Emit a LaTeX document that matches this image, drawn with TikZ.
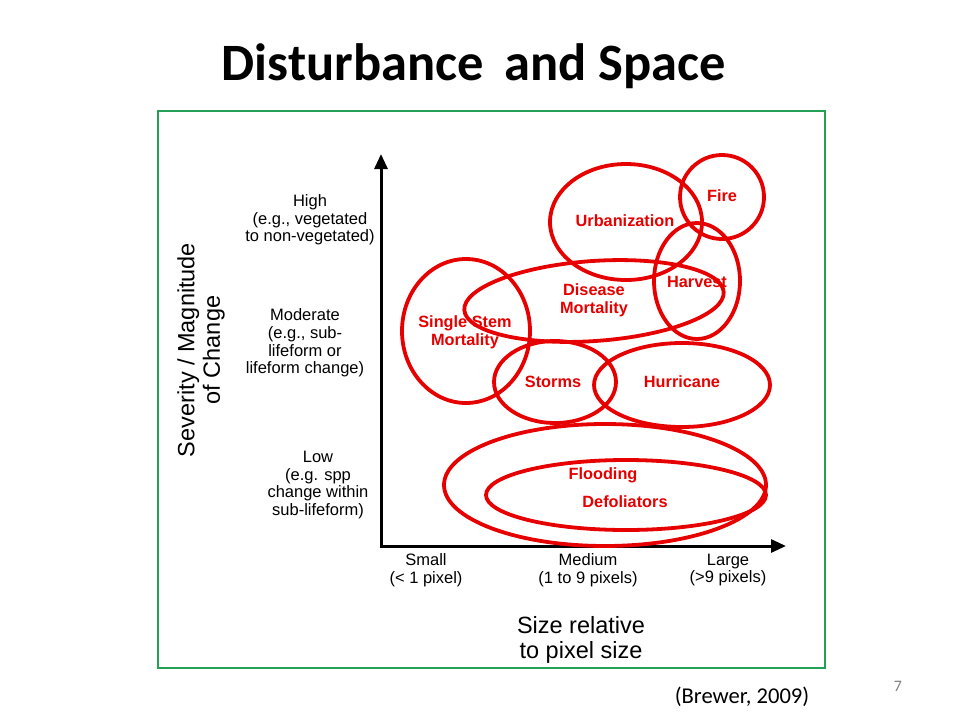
\documentclass[tikz,border=0pt]{standalone}
\usepackage{fontspec}
\setmainfont{Liberation Sans}
\newfontfamily\slidefont{Carlito}
\usetikzlibrary{arrows.meta}
\definecolor{frameg}{RGB}{35,160,85}
\definecolor{ink}{RGB}{230,0,0}

\begin{document}
\begin{tikzpicture}[x=1pt,y=-1pt,
    blob/.style={draw=ink, line width=3.8pt},
    tag/.style={text=ink, font=\fontsize{16.3}{18}\selectfont\bfseries, align=center},
    lvl/.style={font=\fontsize{16.5}{17.7}\selectfont, align=center},
    big/.style={font=\fontsize{23.5}{25.5}\selectfont, align=center}]
        % Page
        \useasboundingbox[fill=white] (0,0) rectangle (960,720);
        \node[font=\slidefont\bfseries\fontsize{52.5}{62}\selectfont] (title) at (474,66) {Disturbance\hspace{9pt} and Space};
        \draw[frameg, line width=1.8pt] (158,111) rectangle (825,668);
        \node[font=\slidefont\fontsize{22.6}{26}\selectfont] (cite) at (742,697) {(Brewer, 2009)};
        \node[font=\slidefont\fontsize{16}{18}\selectfont, text=gray] (pnum) at (898,686) {7};
        % Define the axis
        \coordinate (o) at (381,546);
        \coordinate (ytip) at (381,154);
        \coordinate (xtip) at (786,546);
        \draw[line width=3pt, {Triangle[length=15pt,width=13pt]}-{Triangle[length=15pt,width=13pt]}] (ytip) -- (o) -- (xtip);
        % Axis labels
        \node[lvl] (high) at (310,220) {High\\(e.g., vegetated\\to non-vegetated)};
        \node[lvl] (moderate) at (305,343) {Moderate\\(e.g., sub-\\lifeform or\\lifeform change)};
        \node[lvl] (low) at (318,485) {Low\\(e.g. spp\\change within\\sub-lifeform)};
        \node[big, rotate=90] (sev) at (201,350) {Severity / Magnitude\\of Change};
        \node[lvl] (small) at (426,570) {Small\\(< 1 pixel)};
        \node[lvl] (medium) at (588,570) {Medium\\(1 to 9 pixels)};
        \node[lvl] (large) at (728,570) {Large\\(>9 pixels)};
        \node[big] (size) at (581,640) {Size relative\\to pixel size};
        % Disturbance ellipses
        \draw[blob] (722,197) circle (42);
        \draw[blob] (626,222) ellipse (76 and 58);
        \draw[blob] (697,281) ellipse (43 and 58);
        \draw[blob, rotate around={4:(594,301)}] (594,301) ellipse (130 and 40);
        \draw[blob] (466,331) ellipse (64 and 72);
        \draw[blob] (555,382) ellipse (61 and 41);
        \draw[blob] (682,385) ellipse (88 and 42);
        \draw[blob] (605,485) ellipse (161 and 61);
        \draw[blob] (626,495) ellipse (140 and 35);
        % Disturbance names
        \node[tag] (fire) at (722,196) {Fire};
        \node[tag] (urban) at (625,221) {Urbanization};
        \node[tag] (harvest) at (697,282) {Harvest};
        \node[tag] (disease) at (594,300) {Disease\\Mortality};
        \node[tag] (stem) at (465,332) {Single Stem\\Mortality};
        \node[tag] (storms) at (553,382) {Storms};
        \node[tag] (hurricane) at (682,382) {Hurricane};
        \node[tag] (flood) at (603,475) {Flooding};
        \node[tag] (defol) at (625,502) {Defoliators};
    \end{tikzpicture}
\end{document}
